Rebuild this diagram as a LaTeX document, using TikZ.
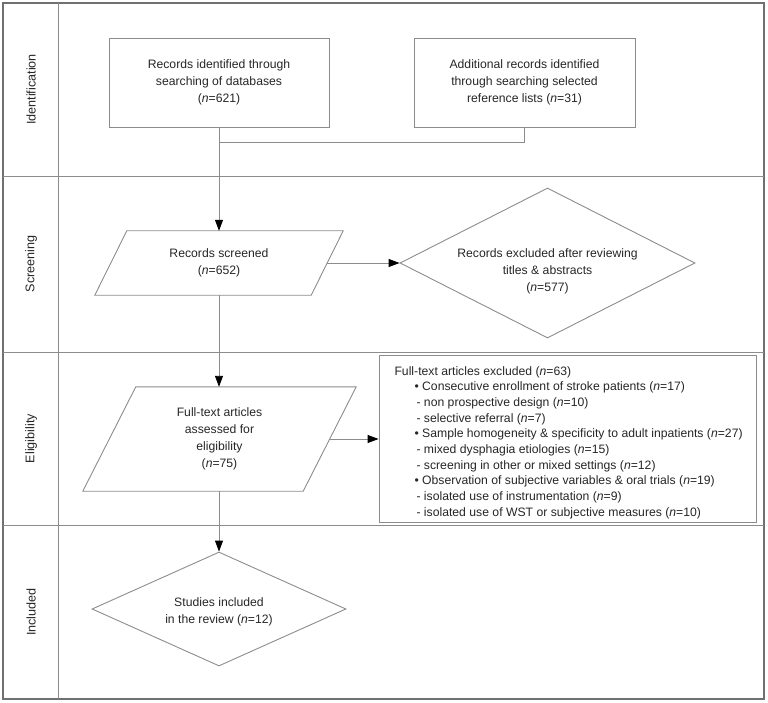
\documentclass[tikz,border=0pt]{standalone}
\usepackage{fontspec}
\setmainfont{Liberation Sans}
\usetikzlibrary{shapes.geometric,arrows.meta}
\definecolor{linegray}{HTML}{8C8C8C}
\definecolor{framegray}{HTML}{707070}
\definecolor{txt}{HTML}{262626}
\begin{document}
\begin{tikzpicture}[x=1pt,y=-1pt,
  every node/.style={text=txt, font=\fontsize{12.2}{17}\selectfont},
  ln/.style={draw=linegray, line width=0.9pt},
  arr/.style={ln, -{Triangle[length=11pt,width=8pt,color=black]}},
  frame/.style={draw=framegray, line width=1.8pt},
  lanelabel/.style={rotate=90, anchor=center, font=\fontsize{12.6}{15}\selectfont},
  boxnode/.style={ln, rectangle, inner sep=0pt, align=center},
  parabody/.style={rectangle, inner sep=0pt, align=center},
  dia/.style={ln, diamond, inner sep=0pt, align=center}]
\useasboundingbox (0,0) rectangle (768,703);

% frame and lanes
\draw[frame] (3,3) rectangle (764,699);
\draw[ln] (58,3) -- (58,699);
\draw[ln] (3,176) -- (764,176);
\draw[ln] (3,352) -- (764,352);
\draw[ln] (3,525) -- (764,525);

\node[lanelabel] (lid) at (31,89.5) {Identification};
\node[lanelabel] (lsc) at (31,264) {Screening};
\node[lanelabel] (lel) at (31,438.5) {Eligibility};
\node[lanelabel] (lin) at (31,612) {Included};

% identification
\node[boxnode, minimum width=220pt, minimum height=89pt] (b1) at (219,82.5)
  {Records identified through\\searching of databases\\(\textit{n}=621)};
\node[boxnode, minimum width=221pt, minimum height=89pt] (b2) at (524.5,82.5)
  {Additional records identified\\through searching selected\\reference lists (\textit{n}=31)};

% screening
\node[parabody, minimum width=216pt, minimum height=64pt] (scr) at (219,263)
  {Records screened\\(\textit{n}=652)};
\draw[ln] ([xshift=16pt]scr.north west) -- ([xshift=16pt]scr.north east)
  -- ([xshift=-16pt]scr.south east) -- ([xshift=-16pt]scr.south west) -- cycle;
\node[dia, minimum width=295pt, minimum height=150pt] (ex1) at (547.5,263) {};
\node[align=center] (ex1t) at (547.5,271)
  {Records excluded after reviewing\\titles \& abstracts\\(\textit{n}=577)};

% eligibility
\node[parabody, minimum width=220pt, minimum height=104pt] (ful) at (219.5,439)
  {Full-text articles\\assessed for\\eligibility\\(\textit{n}=75)};
\draw[ln] ([xshift=26.5pt]ful.north west) -- ([xshift=26.5pt]ful.north east)
  -- ([xshift=-26.5pt]ful.south east) -- ([xshift=-26.5pt]ful.south west) -- cycle;
\node[boxnode, minimum width=377pt, minimum height=167pt] (exc) at (567.5,438.5) {};
\node[anchor=west, align=left, font=\fontsize{12.2}{15.7}\selectfont] (exct) at (391,442.5)
  {Full-text articles excluded (\textit{n}=63)\\
   \hspace*{20pt}\textbullet\ Consecutive enrollment of stroke patients (\textit{n}=17)\\
   \hspace*{22pt}- non prospective design (\textit{n}=10)\\
   \hspace*{22pt}- selective referral (\textit{n}=7)\\
   \hspace*{20pt}\textbullet\ Sample homogeneity \& specificity to adult inpatients (\textit{n}=27)\\
   \hspace*{22pt}- mixed dysphagia etiologies (\textit{n}=15)\\
   \hspace*{22pt}- screening in other or mixed settings (\textit{n}=12)\\
   \hspace*{20pt}\textbullet\ Observation of subjective variables \& oral trials (\textit{n}=19)\\
   \hspace*{22pt}- isolated use of instrumentation (\textit{n}=9)\\
   \hspace*{22pt}- isolated use of WST or subjective measures (\textit{n}=10)};

% included
\node[dia, minimum width=254pt, minimum height=114pt] (inc) at (219,609) {};
\node[align=center] (inct) at (219,612) {Studies included\\in the review (\textit{n}=12)};

% connectors
\draw[ln] (b2.south) -- ++(0,15) -| (b1.south);
\draw[arr] (b1.south) -- (b1.south |- scr.north);
\draw[arr] (scr.east) -- (ex1.west);
\draw[arr] (b1.south |- scr.south) -- (b1.south |- ful.north);
\draw[arr] (ful.east) -- (ful.east -| exc.west);
\draw[arr] (b1.south |- ful.south) -- (inc.north);
\end{tikzpicture}
\end{document}
